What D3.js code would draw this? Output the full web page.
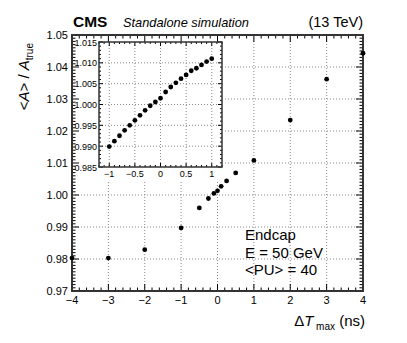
<!DOCTYPE html>
<html>
<head>
<meta charset="utf-8">
<script src="https://cdn.jsdelivr.net/npm/d3@7"></script>
<style>
  body { margin: 0; background: #fff; }
  svg text { font-family: "Liberation Sans", Arial, sans-serif; fill: #000; }
</style>
</head>
<body>
<div id="chart"></div>
<script>
// main plot data: dT_max (ns) vs <A>/A_true
var mainX = [-4, -3, -2, -1, -0.5, -0.25, -0.1, 0, 0.1, 0.25, 0.5, 1, 2, 3, 4];
var mainY = [0.9803, 0.9803, 0.9829, 0.9897, 0.99595, 0.9989, 1.0005, 1.0013, 1.0027, 1.0044, 1.0069, 1.0108, 1.0234, 1.0362, 1.0443];

// inset data (zoom on -1..1)
var insetX = [-1, -0.9, -0.8, -0.7, -0.6, -0.5, -0.4, -0.3, -0.2, -0.1, 0, 0.1, 0.2, 0.3, 0.4, 0.5, 0.6, 0.7, 0.8, 0.9, 1];
var insetY = [0.9899, 0.9912, 0.9925, 0.9938, 0.9950, 0.9962, 0.9974, 0.9986, 0.9997, 1.0006, 1.0015, 1.0030, 1.0042, 1.0052, 1.0062, 1.0071, 1.0081, 1.0087, 1.0095, 1.0103, 1.0110];

var mainXTicks = [-4, -3, -2, -1, 0, 1, 2, 3, 4];
var mainYTicks = [0.97, 0.98, 0.99, 1.00, 1.01, 1.02, 1.03, 1.04, 1.05];
var insetXTicks = [-1, -0.5, 0, 0.5, 1];
var insetYTicks = [0.985, 0.990, 0.995, 1.000, 1.005, 1.010, 1.015];
var legendLines = ["Endcap", "E = 50 GeV", "<PU> = 40"];

var W = 407, H = 343;
var frame = {l: 72, r: 363, t: 35, b: 291};
var inFrame = {l: 99, r: 222, t: 42, b: 167};

var svg = d3.select("#chart").append("svg")
  .attr("width", W).attr("height", H);

var x = d3.scaleLinear().domain([-4, 4]).range([frame.l, frame.r]);
var y = d3.scaleLinear().domain([0.97, 1.05]).range([frame.b, frame.t]);
var xi = d3.scaleLinear().domain([-1.2, 1.2]).range([inFrame.l, inFrame.r]);
var yi = d3.scaleLinear().domain([0.985, 1.015]).range([inFrame.b, inFrame.t]);

var gridStyle = function(sel) {
  sel.attr("stroke", "#888").attr("stroke-width", 1).attr("stroke-dasharray", "1,2");
};

// ROOT-like frame with ticks on all 4 sides
function drawFrame(g, xs, ys, f, xMajor, xMinorStep, yMajor, yMinorStep, majLen, minLen, lw) {
  var xd = xs.domain(), yd = ys.domain();
  var xMinor = d3.range(Math.ceil(xd[0] / xMinorStep - 1e-6), Math.floor(xd[1] / xMinorStep + 1e-6) + 1).map(function(k) { return k * xMinorStep; });
  var yMinor = d3.range(Math.ceil(yd[0] / yMinorStep - 1e-6), Math.floor(yd[1] / yMinorStep + 1e-6) + 1).map(function(k) { return k * yMinorStep; });
  var tk = g.append("g").attr("stroke", "#000").attr("stroke-width", 1);
  xMinor.forEach(function(v) {
    var isMaj = xMajor.some(function(m) { return Math.abs(m - v) < 1e-6; });
    var len = isMaj ? majLen : minLen;
    tk.append("line").attr("x1", xs(v)).attr("x2", xs(v)).attr("y1", f.b).attr("y2", f.b - len);
    tk.append("line").attr("x1", xs(v)).attr("x2", xs(v)).attr("y1", f.t).attr("y2", f.t + len);
  });
  yMinor.forEach(function(v) {
    var isMaj = yMajor.some(function(m) { return Math.abs(m - v) < 1e-7; });
    var len = isMaj ? majLen : minLen;
    tk.append("line").attr("x1", f.l).attr("x2", f.l + len).attr("y1", ys(v)).attr("y2", ys(v));
    tk.append("line").attr("x1", f.r).attr("x2", f.r - len).attr("y1", ys(v)).attr("y2", ys(v));
  });
  g.append("rect").attr("x", f.l).attr("y", f.t)
    .attr("width", f.r - f.l).attr("height", f.b - f.t)
    .attr("fill", "none").attr("stroke", "#333").attr("stroke-width", lw);
}

// main grid
var mg = svg.append("g");
mg.selectAll("line.gx").data(mainXTicks.slice(1, -1)).enter().append("line")
  .attr("x1", function(d) { return x(d); }).attr("x2", function(d) { return x(d); })
  .attr("y1", frame.t).attr("y2", frame.b).call(gridStyle);
mg.selectAll("line.gy").data(mainYTicks.slice(1, -1)).enter().append("line")
  .attr("y1", function(d) { return y(d); }).attr("y2", function(d) { return y(d); })
  .attr("x1", frame.l).attr("x2", frame.r).call(gridStyle);

// white pad of the inset hides the main grid
svg.append("rect").attr("x", frame.l + 1).attr("y", frame.t + 1)
  .attr("width", 224 - frame.l - 1).attr("height", 181 - frame.t - 1).attr("fill", "#fff");

drawFrame(svg.append("g"), x, y, frame, mainXTicks, 0.2, mainYTicks, 0.001, 7, 3.5, 2);

// main tick labels
svg.append("g").selectAll("text").data(mainXTicks).enter().append("text")
  .attr("x", function(d) { return x(d); }).attr("y", frame.b + 13)
  .attr("text-anchor", "middle").attr("font-size", 11)
  .text(function(d) { return d < 0 ? "\u2212" + Math.abs(d) : d; });
svg.append("g").selectAll("text").data(mainYTicks).enter().append("text")
  .attr("x", frame.l - 4).attr("y", function(d) { return y(d) + 4; })
  .attr("text-anchor", "end").attr("font-size", 11)
  .text(function(d) { return d3.format(".2f")(d); });

// main points
svg.append("g").selectAll("circle").data(mainX).enter().append("circle")
  .attr("cx", function(d) { return x(d); })
  .attr("cy", function(d, i) { return y(mainY[i]); })
  .attr("r", 2.4).attr("fill", "#000");

// inset
var ig = svg.append("g");
ig.selectAll("line.gx").data(insetXTicks).enter().append("line")
  .attr("x1", function(d) { return xi(d); }).attr("x2", function(d) { return xi(d); })
  .attr("y1", inFrame.t).attr("y2", inFrame.b).call(gridStyle);
ig.selectAll("line.gy").data(insetYTicks.slice(1, -1)).enter().append("line")
  .attr("y1", function(d) { return yi(d); }).attr("y2", function(d) { return yi(d); })
  .attr("x1", inFrame.l).attr("x2", inFrame.r).call(gridStyle);
drawFrame(ig.append("g"), xi, yi, inFrame, insetXTicks, 0.1, insetYTicks, 0.001, 4, 2, 1.5);

ig.append("g").selectAll("text").data(insetXTicks).enter().append("text")
  .attr("x", function(d) { return xi(d); }).attr("y", inFrame.b + 10)
  .attr("text-anchor", "middle").attr("font-size", 9)
  .text(function(d) { return d < 0 ? "\u2212" + Math.abs(d) : d; });
ig.append("g").selectAll("text").data(insetYTicks).enter().append("text")
  .attr("x", inFrame.l - 2).attr("y", function(d) { return yi(d) + 3.5; })
  .attr("text-anchor", "end").attr("font-size", 9)
  .text(function(d) { return d3.format(".3f")(d); });

ig.append("g").selectAll("circle").data(insetX).enter().append("circle")
  .attr("cx", function(d) { return xi(d); })
  .attr("cy", function(d, i) { return yi(insetY[i]); })
  .attr("r", 2.4).attr("fill", "#000");

// header
svg.append("text").attr("x", frame.l + 1).attr("y", 27)
  .attr("font-size", 15.5).attr("font-weight", "bold").text("CMS");
svg.append("text").attr("x", 123).attr("y", 27)
  .attr("font-size", 12.8).attr("font-style", "italic").text("Standalone simulation");
svg.append("text").attr("x", frame.r).attr("y", 27)
  .attr("font-size", 14.5).attr("text-anchor", "end").text("(13 TeV)");

// legend text
svg.append("g").selectAll("text").data(legendLines).enter().append("text")
  .attr("x", 245).attr("y", function(d, i) { return 240 + i * 17.5; })
  .attr("font-size", 15).text(function(d) { return d; });

// axis titles
var xt = svg.append("text").attr("x", frame.r + 2).attr("y", 326)
  .attr("text-anchor", "end").attr("font-size", 15);
xt.append("tspan").text("\u0394");
xt.append("tspan").attr("font-style", "italic").text("T");
xt.append("tspan").attr("font-size", 10).attr("dy", 4).text(" max");
xt.append("tspan").attr("dy", -4).text(" (ns)");

var yt = svg.append("text").attr("transform", "translate(29,43) rotate(-90)")
  .attr("text-anchor", "end").attr("font-size", 15);
yt.append("tspan").text("<");
yt.append("tspan").attr("font-style", "italic").text("A");
yt.append("tspan").text("> / ");
yt.append("tspan").attr("font-style", "italic").text("A");
yt.append("tspan").attr("font-size", 10).attr("dy", 4).text("true");
</script>
</body>
</html>
